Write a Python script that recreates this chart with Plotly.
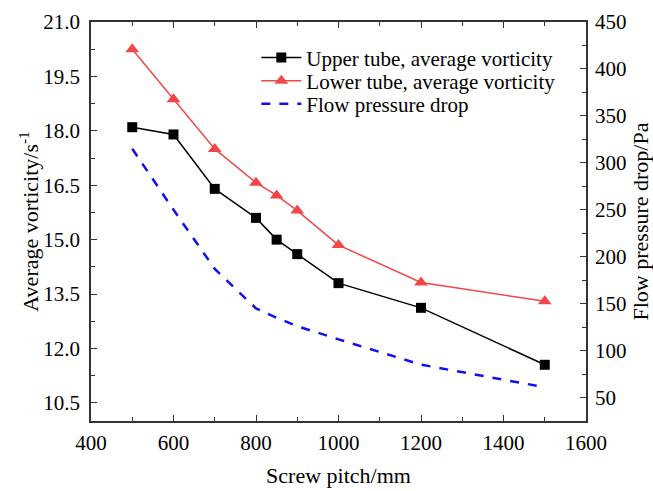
import plotly.graph_objects as go

pitch = [500, 600, 700, 800, 850, 900, 1000, 1200, 1500]
upper_vort = [18.1, 17.9, 16.4, 15.6, 15.0, 14.6, 13.8, 13.12, 11.55]
lower_vort = [20.25, 18.87, 17.5, 16.57, 16.22, 15.8, 14.85, 13.82, 13.3]
drop_pitch = [500, 600, 700, 800, 850, 900, 1000, 1200, 1500]
pressure_drop = [315, 250, 187, 145, 135, 126, 112, 85, 61]

FONT = "Liberation Serif"

fig = go.Figure()
fig.add_trace(go.Scatter(x=pitch, y=upper_vort, mode="lines+markers",
                         name="Upper tube, average vorticity", legend="legend",
                         line=dict(color="black", width=1.5),
                         marker=dict(symbol="square", size=10, color="black")))
fig.add_trace(go.Scatter(x=pitch, y=lower_vort, mode="lines+markers",
                         name="Lower tube, average vorticity", legend="legend2",
                         line=dict(color="#F04848", width=1.5),
                         marker=dict(symbol="triangle-up", size=12, color="#F04848")))
fig.add_trace(go.Scatter(x=drop_pitch, y=pressure_drop, mode="lines",
                         name="Flow pressure drop", yaxis="y2", legend="legend3",
                         line=dict(color="#1010F0", width=2.5, dash="dash")))

axis_common = dict(showline=True, linecolor="#333333", linewidth=1.5,
                   ticks="inside", ticklen=6, tickwidth=1.2, tickcolor="#333333",
                   showgrid=False, zeroline=False, automargin=False,
                   tickfont=dict(family=FONT, size=21, color="black"))

def leg(ypos):
    return dict(x=0.334, y=ypos, xanchor="left", yanchor="middle",
                bgcolor="rgba(0,0,0,0)", font=dict(family=FONT, size=21),
                itemwidth=40)

fig.update_layout(
    width=653, height=491,
    margin=dict(l=91, r=67, t=22, b=70),
    plot_bgcolor="white", paper_bgcolor="white",
    font=dict(family=FONT, size=21, color="black"),
    showlegend=True,
    legend=leg(0.910),
    legend2=leg(0.852),
    legend3=leg(0.794),
    xaxis=dict(range=[400, 1600], dtick=200, tick0=400, mirror="ticks",
               ticklabelstandoff=2,
               minor=dict(ticks="inside", ticklen=4, dtick=100, tickcolor="#333333"),
               title=dict(text="Screw pitch/mm", font=dict(family=FONT, size=22), standoff=14),
               **axis_common),
    yaxis=dict(range=[10.0, 21.0], tick0=10.5, dtick=1.5, tickformat=".1f",
               ticklabelstandoff=5,
               minor=dict(ticks="inside", ticklen=4, dtick=0.75, tickcolor="#333333"),
               **axis_common),
    yaxis2=dict(range=[25, 450], tick0=50, dtick=50, overlaying="y", side="right",
                ticklabelstandoff=3,
                minor=dict(ticks="inside", ticklen=4, dtick=25, tickcolor="#333333"),
                title=dict(text="Flow pressure drop/Pa", font=dict(family=FONT, size=22), standoff=8),
                **axis_common),
    annotations=[dict(text="Average vorticity/s<sup>-1</sup>", xref="paper", yref="paper",
                      x=-0.127, y=0.5, xanchor="center", yanchor="middle",
                      textangle=-90, showarrow=False,
                      font=dict(family=FONT, size=22, color="black"))],
)

fig.write_html("out.html")
